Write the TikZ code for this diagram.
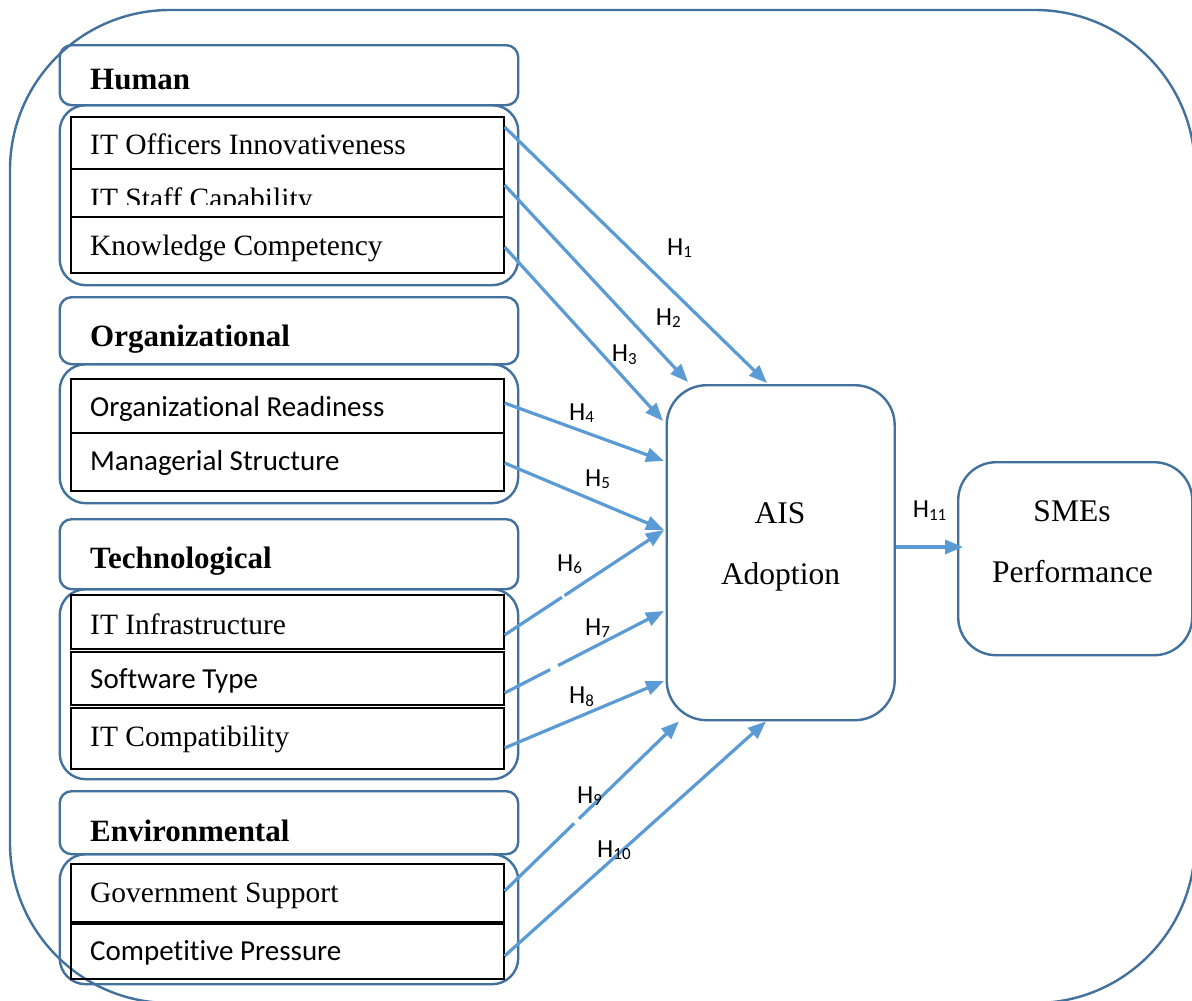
\documentclass[tikz,border=0pt]{standalone}
\usepackage{fontspec}
\setmainfont{Liberation Serif}
\newfontfamily\calib[Ligatures={NoCommon}]{Carlito}
\usetikzlibrary{arrows.meta,calc}
\definecolor{boxblue}{HTML}{41719C}
\definecolor{arrblue}{HTML}{5B9BD5}
\newcommand\hyp[1]{H\raisebox{-2.5pt}{\fontsize{17}{17}\selectfont #1}}
\tikzset{
  outl/.style={draw=boxblue, line width=2.4pt},
  hdrbox/.style={outl, rounded corners=12pt, minimum width=458.5pt, anchor=north west, inner sep=0pt},
  grpbox/.style={outl, rounded corners=26pt, minimum width=458.5pt, anchor=north west, inner sep=0pt},
  rowbox/.style={draw=black, line width=2pt, minimum width=433pt, anchor=north west, inner sep=0pt},
  sertext/.style={anchor=base west, inner sep=0pt, font=\fontsize{29.5}{34}\selectfont},
  caltext/.style={anchor=base west, inner sep=0pt, font=\calib\fontsize{29}{34}\selectfont},
  hdrtext/.style={anchor=base west, inner sep=0pt, font=\bfseries\fontsize{31}{36}\selectfont},
  bigtext/.style={anchor=base, inner sep=0pt, font=\fontsize{31.5}{36}\selectfont},
  hlab/.style={anchor=base west, inner sep=0pt, font=\calib\fontsize{26}{30}\selectfont},
  arr/.style={draw=arrblue, line width=3.2pt, -{Triangle[length=18pt,width=14pt]}},
  gap/.style={draw=white, line width=6pt}
}
\begin{document}
\begin{tikzpicture}[x=1pt,y=-1pt]
\useasboundingbox (0,0) rectangle (1192,1001);
\clip (0,0) rectangle (1192,1001);
\fill[white] (0,0) rectangle (1192,1001);
% outer frame
\draw[outl, rounded corners=160pt] (10,10) rectangle (1195,1003);

% ---- Human
\node[hdrbox, minimum height=60pt] (hH) at (58.5,44) {};
\node[grpbox, minimum height=180pt] (gH) at (58.5,104) {};
\node[rowbox, minimum height=52pt] (r1) at (69.6,116) {};
\node[rowbox, minimum height=48pt] (r2) at (69.6,168) {};
\node[rowbox, minimum height=56pt] (r3) at (69.6,216) {};
\node[hdrtext] (tH) at (90,89) {Human};
\node[sertext] (t1) at (90,154) {IT Officers Innovativeness};
\begin{scope}
\clip (69.6,168) rectangle (502.5,204);
\node[sertext] (t2) at (90,208) {IT Staff Capability};
\end{scope}
\node[sertext] (t3) at (90,255) {Knowledge Competency};

% ---- Organizational
\node[hdrbox, minimum height=67pt] (hO) at (58.5,296) {};
\node[grpbox, minimum height=139pt] (gO) at (58.5,363) {};
\node[rowbox, minimum height=54pt] (r4) at (69.6,378) {};
\node[rowbox, minimum height=58pt] (r5) at (69.6,432) {};
\node[hdrtext] (tO) at (90,346.7) {Organizational};
\node[caltext] (t4) at (90,416.7) {Organizational Readiness};
\node[caltext] (t5) at (90,470.7) {Managerial Structure};

% ---- Technological
\node[hdrbox, minimum height=70pt] (hT) at (58.5,518) {};
\node[grpbox, minimum height=190pt] (gT) at (58.5,588) {};
\node[rowbox, minimum height=54pt] (r6) at (69.6,594) {};
\node[rowbox, minimum height=53pt] (r7) at (69.6,651) {};
\node[rowbox, minimum height=61pt] (r8) at (69.6,707) {};
\node[hdrtext] (tT) at (90,568) {Technological};
\node[sertext] (t6) at (90,634) {IT Infrastructure};
\node[caltext] (t7) at (90,688) {Software Type};
\node[sertext] (t8) at (90,746) {IT Compatibility};

% ---- Environmental
\node[hdrbox, minimum height=63pt] (hE) at (58.5,790) {};
\node[grpbox, minimum height=130pt] (gE) at (58.5,853) {};
\node[rowbox, minimum height=58pt] (r9) at (69.6,863) {};
\node[rowbox, minimum height=55pt] (r10) at (69.6,923) {};
\node[hdrtext] (tE) at (90,841.7) {Environmental};
\node[sertext] (t9) at (90,902.7) {Government Support};
\node[caltext] (t10) at (90,960.7) {Competitive Pressure};

% ---- AIS Adoption and SMEs Performance
\node[outl, rounded corners=40pt, minimum width=228pt, minimum height=335pt, anchor=north west, inner sep=0pt] (ais) at (665.5,384) {};
\node[bigtext] (tais1) at (780,523) {AIS};
\node[bigtext] (tais2) at (780.5,584) {Adoption};
\node[outl, rounded corners=38pt, minimum width=234pt, minimum height=193pt, anchor=north west, inner sep=0pt] (smes) at (957,461) {};
\node[bigtext] (tsm1) at (1072,521) {SMEs};
\node[bigtext] (tsm2) at (1072.5,582) {Performance};

% ---- arrow ends
\coordinate (s1) at ($(r1.north east)+(0,11)$);
\coordinate (s2) at ($(r2.north east)+(0,17)$);
\coordinate (s3) at ($(r3.north east)+(0,31)$);
\coordinate (s4) at ($(r4.north east)+(0,25)$);
\coordinate (s5) at ($(r5.north east)+(0,31)$);
\coordinate (s6) at ($(r6.north east)+(0,41)$);
\coordinate (s7) at ($(r7.north east)+(0,42)$);
\coordinate (s8) at ($(r8.north east)+(0,41)$);
\coordinate (s9) at ($(r9.north east)+(0,28)$);
\coordinate (s10) at ($(r10.north east)+(0,33)$);
\coordinate (e1) at ($(ais.north west)+(101.5,-1)$);
\coordinate (e2) at ($(ais.north west)+(22.5,-2)$);
\coordinate (e3) at ($(ais.north west)+(-2.5,37)$);
\coordinate (e4) at ($(ais.north west)+(-1.5,77)$);
\coordinate (e5) at ($(ais.north west)+(-1.5,146)$);
\coordinate (e7) at ($(ais.north west)+(-1.5,227)$);
\coordinate (e8) at ($(ais.north west)+(-1.5,297)$);
\coordinate (e9) at ($(ais.south west)+(13.5,0)$);
\coordinate (e10) at ($(ais.south west)+(100.5,0)$);
\coordinate (s11) at ($(ais.north east)+(0,163)$);
\coordinate (e11) at ($(smes.north west)+(6,86)$);

% ---- arrows
\draw[arr] (s1) -- (e1);
\draw[arr] (s2) -- (e2);
\draw[arr] (s3) -- (e3);
\draw[arr] (s4) -- (e4);
\draw[arr] (s5) -- (e5);
\draw[arr] (s6) -- (e5);
\draw[arr] (s7) -- (e7);
\draw[arr] (s8) -- (e8);
\draw[arr] (s9) -- (e9);
\draw[arr] (s10) -- (e10);
\draw[arr] (s11) -- (e11);
% small breaks in some lines
\draw[gap] ($(s6)!0.36!(e5)$) -- ($(s6)!0.375!(e5)$);
\draw[gap] ($(s7)!0.286!(e7)$) -- ($(s7)!0.335!(e7)$);
\draw[gap] ($(s9)!0.40!(e9)$) -- ($(s9)!0.425!(e9)$);

% ---- hypothesis labels
\node[hlab] (h1) at (667,255) {\hyp{1}};
\node[hlab] (h2) at (655.7,325) {\hyp{2}};
\node[hlab] (h3) at (611.7,361.7) {\hyp{3}};
\node[hlab] (h4) at (569,420) {\hyp{4}};
\node[hlab] (h5) at (585,486) {\hyp{5}};
\node[hlab] (h6) at (557,571) {\hyp{6}};
\node[hlab] (h7) at (585,635) {\hyp{7}};
\node[hlab] (h8) at (569,703.5) {\hyp{8}};
\node[hlab] (h9) at (577,803) {\hyp{9}};
\node[hlab] (h10) at (597,857) {\hyp{10}};
\node[hlab] (h11) at (912.6,517.5) {\hyp{11}};
\end{tikzpicture}
\end{document}
